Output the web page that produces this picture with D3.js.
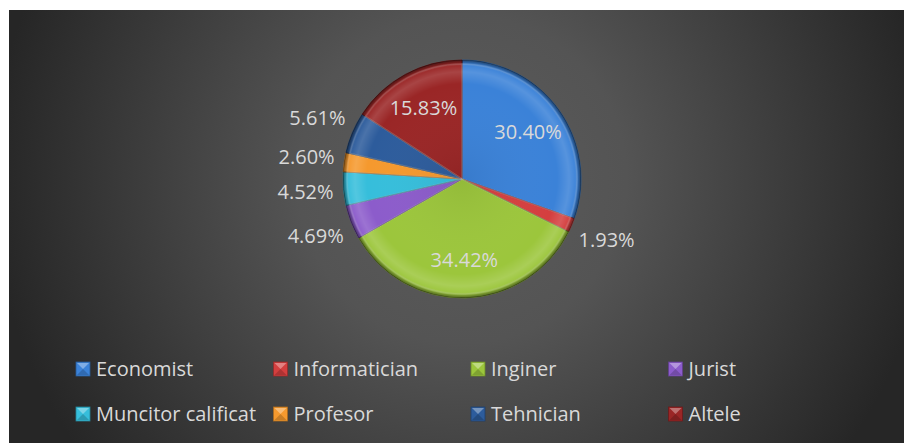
<!DOCTYPE html>
<html>
<head>
<meta charset="utf-8">
<script src="https://cdn.jsdelivr.net/npm/d3@7"></script>
<style>
  body { margin: 0; background: #fff; }
  svg { display: block; }
  text { font-family: "Open Sans", "Noto Sans", sans-serif; }
</style>
</head>
<body>
<svg id="drawing_region"></svg>
<script>
// Data (percentages)
const categories = ["Economist", "Informatician", "Inginer", "Jurist",
    "Muncitor calificat", "Profesor", "Tehnician", "Altele"];
const values = [30.40, 1.93, 34.42, 4.69, 4.52, 2.60, 5.61, 15.83];
const colors = ["#3b82d8", "#d43f3f", "#9cc63c", "#8c5ccb",
    "#36bedb", "#f5992e", "#2d5c9c", "#9a2626"];
// labels drawn inside the slice
const insideLabels = ["Economist", "Inginer", "Altele"];

const config = {
    parent: '#drawing_region',
    width: 904,
    height: 443,
    cx: 462,
    cy: 179,
    radius: 119
};

const data = categories.map((c, i) => ({ name: c, value: values[i], color: colors[i] }));

const svg = d3.select(config.parent)
    .attr('width', config.width)
    .attr('height', config.height);

const defs = svg.append('defs');

// background gradient
const bg = defs.append('radialGradient')
    .attr('id', 'bg')
    .attr('gradientUnits', 'userSpaceOnUse')
    .attr('cx', config.cx).attr('cy', config.cy).attr('r', 470);
bg.append('stop').attr('offset', 0).attr('stop-color', '#5c5c5c');
bg.append('stop').attr('offset', 0.35).attr('stop-color', '#545454');
bg.append('stop').attr('offset', 1).attr('stop-color', '#262626');

// bevel overlay for the slices (centered on the pie group origin)
const bevel = defs.append('radialGradient')
    .attr('id', 'bevel')
    .attr('gradientUnits', 'userSpaceOnUse')
    .attr('cx', 0).attr('cy', 0).attr('r', config.radius);
[[0, '#000', 0.06], [0.8, '#fff', 0], [0.9, '#fff', 0.14], [0.95, '#fff', 0.04],
 [0.98, '#000', 0.25], [1, '#000', 0.5]].forEach(s => {
    bevel.append('stop').attr('offset', s[0]).attr('stop-color', s[1]).attr('stop-opacity', s[2]);
});

svg.append('rect')
    .attr('x', 9).attr('y', 10)
    .attr('width', config.width - 9).attr('height', config.height - 10)
    .attr('fill', 'url(#bg)');

// pie
const pie = d3.pie().sort(null).value(d => d.value);
const arc = d3.arc().innerRadius(0).outerRadius(config.radius);
const arcs = pie(data);

const chart = svg.append('g')
    .attr('transform', `translate(${config.cx}, ${config.cy})`);

chart.selectAll('path.slice')
    .data(arcs)
    .join('path')
    .attr('class', 'slice')
    .attr('d', arc)
    .attr('fill', d => d.data.color)
    .attr('stroke', d => d3.color(d.data.color).darker(1.3))
    .attr('stroke-width', 0.9);

chart.selectAll('path.bevel')
    .data(arcs)
    .join('path')
    .attr('class', 'bevel')
    .attr('d', arc)
    .attr('fill', 'url(#bevel)');

// inner highlight along the slice edges
chart.selectAll('path.edge')
    .data(arcs)
    .join('path')
    .attr('class', 'edge')
    .attr('d', d3.arc().innerRadius(0).outerRadius(config.radius - 4))
    .attr('fill', 'none')
    .attr('stroke', '#fff')
    .attr('stroke-opacity', 0.12)
    .attr('stroke-width', 1.5);

// data labels
const inArc = d3.arc().innerRadius(config.radius * 0.68).outerRadius(config.radius * 0.68);
const outArc = d3.arc().innerRadius(157).outerRadius(157);

chart.selectAll('text.label')
    .data(arcs)
    .join('text')
    .attr('class', 'label')
    .attr('transform', d => {
        const p = insideLabels.includes(d.data.name) ? inArc.centroid(d) : outArc.centroid(d);
        return `translate(${p[0]}, ${p[1]})`;
    })
    .attr('text-anchor', 'middle')
    .attr('dy', '0.35em')
    .attr('fill', '#d9d9d9')
    .attr('font-size', '20px')
    .text(d => d.data.value.toFixed(2) + '%');

// legend
const legend = svg.append('g')
    .attr('transform', 'translate(76, 362)');

const item = legend.selectAll('g')
    .data(data)
    .join('g')
    .attr('transform', (d, i) => `translate(${(i % 4) * 197.5}, ${Math.floor(i / 4) * 45})`);

const s = 14;
item.append('rect')
    .attr('width', s).attr('height', s)
    .attr('fill', d => d.color)
    .attr('stroke', d => d3.color(d.color).darker(1))
    .attr('stroke-width', 0.8);
item.append('path')
    .attr('d', `M1,1L${s - 1},1L${s / 2},${s / 2}Z`)
    .attr('fill', '#fff')
    .attr('fill-opacity', 0.35);
item.append('path')
    .attr('d', `M1,${s - 1}L${s - 1},${s - 1}L${s / 2},${s / 2}Z`)
    .attr('fill', '#000')
    .attr('fill-opacity', 0.18);

item.append('text')
    .attr('x', 20)
    .attr('y', s / 2)
    .attr('dy', '0.36em')
    .attr('fill', '#d9d9d9')
    .attr('font-size', '20px')
    .text(d => d.name);
</script>
</body>
</html>
